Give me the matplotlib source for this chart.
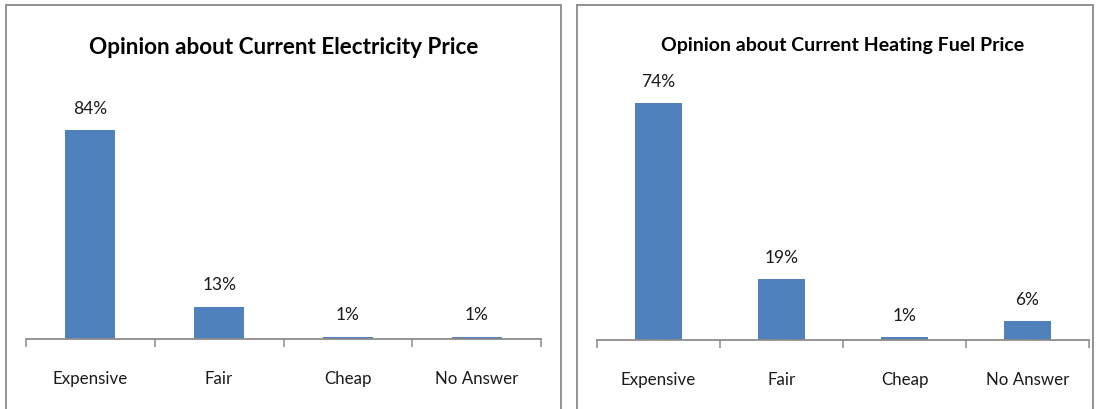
import matplotlib
matplotlib.use("Agg")
import matplotlib.pyplot as plt
from matplotlib.patches import Rectangle

categories = ["Expensive", "Fair", "Cheap", "No Answer"]
electricity = [84, 13, 1, 1]
heating = [74, 19, 1, 6]
electricity_labels = ["84%", "13%", "1%", "1%"]
heating_labels = ["74%", "19%", "1%", "6%"]
titles = ["Opinion about Current Electricity Price", "Opinion about Current Heating Fuel Price"]

plt.rcParams["font.family"] = ["Lato", "DejaVu Sans"]

W, H = 1097, 410
fig = plt.figure(figsize=(W / 100, H / 100), dpi=100)

BAR = "#4F81BD"
AXC = "#8C8C8C"

def fx(px):
    return px / W

def fy(py):
    return 1 - py / H

# panel borders
for x0, x1 in [(6, 561), (577, 1093)]:
    fig.patches.append(Rectangle((fx(x0), fy(420)), fx(x1 - x0), (420 - 6) / H,
                                 transform=fig.transFigure, fill=False,
                                 edgecolor="#8A8A8A", linewidth=1.3))

panels = [
    dict(x0=26, x1=541, base=340, top=110, ppu=2.488, vals=electricity, labs=electricity_labels,
         title=titles[0], ty=47, tsize=16.2),
    dict(x0=597, x1=1089, base=341, top=80, ppu=3.203, vals=heating, labs=heating_labels,
         title=titles[1], ty=45, tsize=14),
]

for p in panels:
    ax = fig.add_axes([fx(p["x0"]), fy(p["base"]), fx(p["x1"] - p["x0"]), (p["base"] - p["top"]) / H])
    ymax = (p["base"] - p["top"]) / p["ppu"]
    xs = list(range(len(categories)))
    ax.bar(xs, p["vals"], width=0.39, color=BAR, zorder=2)
    ax.set_xlim(-0.5, len(categories) - 0.5)
    ax.set_ylim(0, ymax)
    for s in ["top", "right", "left"]:
        ax.spines[s].set_visible(False)
    ax.spines["bottom"].set_color(AXC)
    ax.spines["bottom"].set_linewidth(1.3)
    ax.set_yticks([])
    ax.set_xticks(xs)
    ax.set_xticklabels(categories, fontsize=12.2, color="#1a1a1a")
    ax.tick_params(axis="x", which="major", length=0, pad=22)
    ax.set_xticks([i - 0.5 for i in range(len(categories) + 1)], minor=True)
    ax.tick_params(axis="x", which="minor", length=6, width=1.1, color=AXC)
    for x, v, lab in zip(xs, p["vals"], p["labs"]):
        ax.annotate(lab, (x, v), xytext=(0, 16), textcoords="offset points",
                    ha="center", va="center", fontsize=12.5, color="#1a1a1a",
                    annotation_clip=False)
    cx = (p["x0"] + p["x1"]) / 2
    fig.text(fx(cx), fy(p["ty"]), p["title"], ha="center", va="center",
             fontsize=p["tsize"], fontweight="bold", color="#000000")

fig.savefig("out.png", dpi=100)
